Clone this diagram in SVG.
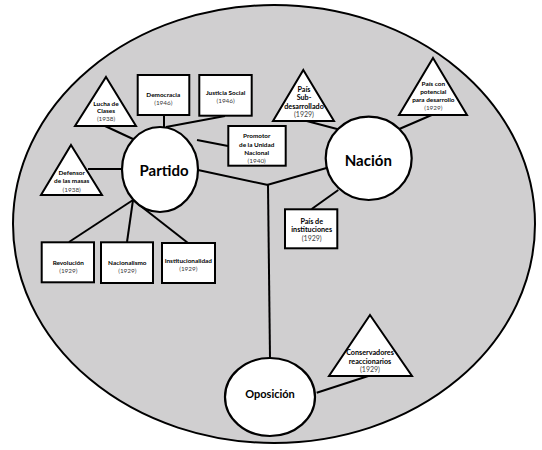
<svg xmlns="http://www.w3.org/2000/svg" width="542" height="450" viewBox="0 0 542 450">
<style>
.bg{fill:#d0cfd0;stroke:#000;stroke-width:2}
.hub{fill:#fff;stroke:#000;stroke-width:2.2}
.box{fill:#fff;stroke:#000;stroke-width:2}
.tri{fill:#fff;stroke:#000;stroke-width:2;stroke-linejoin:miter}
.ln{stroke:#000;stroke-width:2;fill:none}
text{font-family:Lato,"Open Sans","Liberation Sans",sans-serif;text-anchor:middle;dominant-baseline:central}
.b{font-weight:bold;font-size:6.4px;fill:#000}
.bn{font-weight:bold;font-size:7.2px;fill:#000}
.y{font-size:6.4px;fill:#404040}
.yn{font-size:7px;fill:#404040}
.t{font-weight:bold;font-size:15px;fill:#000}
.to{font-weight:bold;font-size:11px;fill:#000}
</style>
<rect width="542" height="450" fill="#fff"/>
<ellipse class="bg" cx="274" cy="224" rx="261" ry="219"/>
<g id="connectors">
<line class="ln" x1="198" y1="170" x2="268" y2="185"/>
<line class="ln" x1="330" y1="167" x2="267" y2="185"/>
<line class="ln" x1="268" y1="185" x2="270" y2="358"/>
<line class="ln" x1="105" y1="126" x2="133" y2="139"/>
<line class="ln" x1="88" y1="169" x2="122" y2="169"/>
<line class="ln" x1="228" y1="146" x2="197" y2="140"/>
<line class="ln" x1="225" y1="116" x2="166" y2="127"/>
<line class="ln" x1="164" y1="115" x2="164" y2="127"/>
<line class="ln" x1="133" y1="200" x2="69" y2="242"/>
<line class="ln" x1="133" y1="200" x2="127" y2="242"/>
<line class="ln" x1="133" y1="200" x2="188" y2="243"/>
<line class="ln" x1="306.7" y1="121" x2="338" y2="129.3"/>
<line class="ln" x1="431.7" y1="115" x2="399.3" y2="129"/>
<line class="ln" x1="311.7" y1="209" x2="338.3" y2="190"/>
<line class="ln" x1="368.3" y1="376" x2="316.7" y2="392.7"/>
</g>
<g id="partido"><ellipse class="hub" cx="160" cy="169.5" rx="38" ry="42.5"/><text class="t" x="164" y="170">Partido</text></g>
<g id="nacion"><ellipse class="hub" cx="368.7" cy="158.3" rx="43" ry="41.7"/><text class="t" x="368.3" y="160">Nación</text></g>
<g id="oposicion"><ellipse class="hub" cx="270" cy="397" rx="45" ry="39"/><text class="to" x="270" y="393.3">Oposición</text></g>
<g id="lucha"><polygon class="tri" points="106,77 136,126 75,126"/><text class="b" x="106" y="103.3">Lucha de</text><text class="b" x="106" y="110.8">Clases</text><text class="y" x="106" y="118.3">(1938)</text></g>
<g id="defensor"><polygon class="tri" points="71,145 102,195 41,195"/><text class="b" x="71.7" y="172.7">Defensor</text><text class="b" x="71.7" y="180.7">de las masas</text><text class="y" x="71.7" y="189">(1938)</text></g>
<g id="democracia"><rect class="box" x="137.7" y="75" width="51.6" height="40"/><text class="b" x="163.3" y="94.3">Democracia</text><text class="y" x="163.3" y="102">(1946)</text></g>
<g id="justicia"><rect class="box" x="199.3" y="75" width="52.4" height="40.7"/><text class="b" x="225.6" y="92.3">Justicia Social</text><text class="y" x="225.6" y="100">(1946)</text></g>
<g id="promotor"><rect class="box" x="228.3" y="126" width="57.4" height="39.7"/><text class="b" x="256.7" y="135.7">Promotor</text><text class="b" x="256.7" y="144.2">de la Unidad</text><text class="b" x="256.7" y="152.5">Nacional</text><text class="y" x="256.7" y="160.5">(1940)</text></g>
<g id="revolucion"><rect class="box" x="41.7" y="242.3" width="52.3" height="40"/><text class="b" x="68.3" y="262.7">Revolución</text><text class="y" x="68.3" y="270.7">(1929)</text></g>
<g id="nacionalismo"><rect class="box" x="101" y="242.3" width="52" height="40.7"/><text class="b" x="127.3" y="262">Nacionalismo</text><text class="y" x="127.3" y="270">(1929)</text></g>
<g id="institucionalidad"><rect class="box" x="162" y="243" width="53" height="40"/><text class="b" x="188.3" y="260.3">Institucionalidad</text><text class="y" x="188.3" y="268.7">(1929)</text></g>
<g id="subdesarrollado"><polygon class="tri" points="303.3,70 334,121 273,121"/><text class="bn" x="304" y="89">País</text><text class="bn" x="304" y="97.7">Sub-</text><text class="bn" x="304" y="106">desarrollado</text><text class="yn" x="304" y="114">(1929)</text></g>
<g id="potencial"><polygon class="tri" points="433,58 467,115 399,115"/><text class="b" x="433.3" y="83.3">País con</text><text class="b" x="433.3" y="91.3">potencial</text><text class="b" x="433.3" y="99.3">para desarrollo</text><text class="y" x="433.3" y="107.3">(1929)</text></g>
<g id="instituciones"><rect class="box" x="285" y="209.3" width="52.3" height="39"/><text class="bn" x="311.7" y="221">País de</text><text class="bn" x="311.7" y="229">instituciones</text><text class="yn" x="311.7" y="237.7">(1929)</text></g>
<g id="conservadores"><polygon class="tri" points="370,315 412,376 329,376"/><text class="bn" x="370" y="352.3">Conservadores</text><text class="bn" x="370" y="361">reaccionarios</text><text class="yn" x="370" y="369">(1929)</text></g>
</svg>
